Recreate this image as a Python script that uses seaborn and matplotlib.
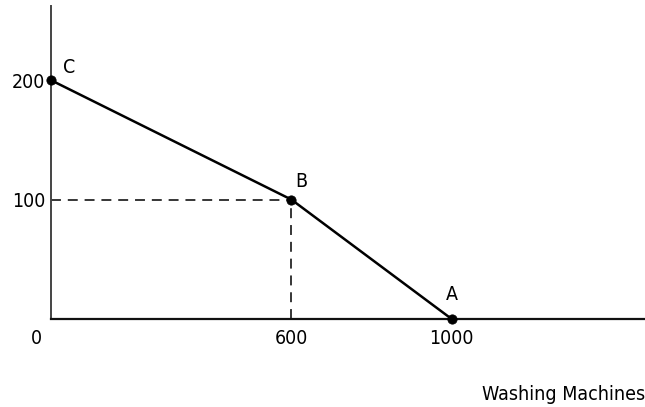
import pandas as pd
import seaborn as sns
import matplotlib.pyplot as plt

# production possibilities points
washers = [0, 600, 1000]
other_good = [200, 100, 0]
point_names = ["C", "B", "A"]
x_ticks = [600, 1000]
y_ticks = [100, 200]

df = pd.DataFrame({"washers": washers, "other": other_good, "name": point_names})

sns.set_style("white")
plt.rcParams["font.family"] = ["DejaVu Sans"]
plt.rcParams["font.stretch"] = "condensed"
plt.rcParams["text.color"] = "black"
plt.rcParams["xtick.color"] = "black"
plt.rcParams["ytick.color"] = "black"

fig = plt.figure(figsize=(6.45, 4.07), dpi=100)
ax = fig.add_axes([0.079, 0.216, 0.921, 0.769])

sns.lineplot(data=df, x="washers", y="other", color="black", lw=1.8, ax=ax, sort=False)
sns.scatterplot(data=df, x="washers", y="other", color="black", s=45, zorder=5, ax=ax,
                edgecolor="black", clip_on=False)

# dashed guides to point B
bx, by = washers[1], other_good[1]
ax.plot([0, bx], [by, by], ls=(0, (6.5, 4.5)), color="black", lw=1.1)
ax.plot([bx, bx], [0, by], ls=(0, (6.5, 4.5)), color="black", lw=1.1)

offsets = {"C": (18, 13), "B": (10, 18), "A": (0, 25)}
for x, y, n in zip(washers, other_good, point_names):
    dx, dy = offsets[n]
    ax.annotate(n, (x, y), xytext=(dx, dy), textcoords="offset pixels",
                ha="center", va="center", fontsize=14)

ax.set_xlim(0, 1482)
ax.set_ylim(0, 262)
ax.set_xticks(x_ticks)
ax.set_yticks(y_ticks)
ax.tick_params(length=0, labelsize=14, pad=7)
ax.tick_params(axis="y", pad=4)
ax.set_xlabel("")
ax.set_ylabel("")
ax.annotate("0", (0, 0), xytext=(-15, -10), textcoords="offset pixels",
            ha="center", va="top", fontsize=14)
fig.text(1.0, 0.03, "Washing Machines", ha="right", va="center", fontsize=14)

for side in ["top", "right"]:
    ax.spines[side].set_visible(False)
ax.spines["left"].set_color("#444444")
ax.spines["left"].set_linewidth(1.4)
ax.spines["bottom"].set_color("#111111")
ax.spines["bottom"].set_linewidth(1.6)

fig.savefig("out.png", dpi=100)
